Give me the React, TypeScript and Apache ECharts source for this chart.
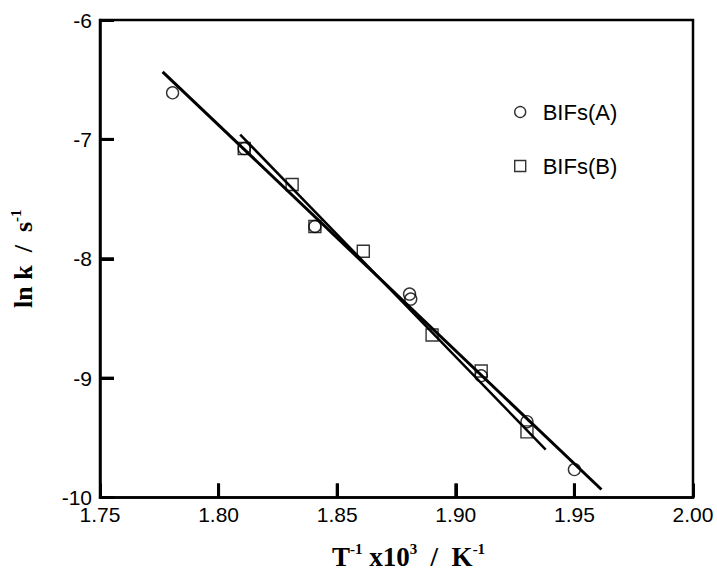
import React, { useEffect, useRef } from "react";
import * as echarts from "echarts";

const seriesNames = ["BIFs(A)", "BIFs(B)"];
const xA = [1.7806, 1.8108, 1.8406, 1.8805, 1.881, 1.9107, 1.93, 1.95];
const yA = [-6.61, -7.077, -7.73, -8.296, -8.338, -8.98, -9.365, -9.766];
const xB = [1.8108, 1.831, 1.8406, 1.861, 1.89, 1.9107, 1.93];
const yB = [-7.077, -7.378, -7.73, -7.937, -8.639, -8.94, -9.45];
const fitAx = [1.7764, 1.9614];
const fitAy = [-6.434, -9.933];
const fitBx = [1.8091, 1.9379];
const fitBy = [-6.96, -9.599];
const xTicks = [1.75, 2.0, 0.05];
const yTicks = [-10, -6, 1];
const xTickMarks = [1.8, 1.85, 1.9, 1.95];
const yTickMarks = [-9, -8, -7];

const zip = (a: number[], b: number[]) => a.map((v, i) => [v, b[i]]);

export default function App() {
  const ref = useRef<HTMLDivElement>(null);
  useEffect(() => {
    if (!ref.current) return;
    const chart = echarts.init(ref.current, null, { renderer: "svg" });
    const labelFont = { fontFamily: "Liberation Sans", fontSize: 21, color: "#000" };
    const titleB = { fontFamily: "Liberation Serif", fontWeight: "bold" as const, fontSize: 27, color: "#000", lineHeight: 30 };
    const titleSup = { fontFamily: "Liberation Serif", fontWeight: "bold" as const, fontSize: 15, color: "#000", verticalAlign: "top" as const, lineHeight: 30 };
    const markerStyle = { color: "rgba(255,255,255,0)", borderColor: "#000", borderWidth: 1.4 };
    const tickLen = 14;
    chart.setOption({
      animation: false,
      backgroundColor: "#fff",
      grid: { left: 98, right: 24, top: 20, bottom: 76, show: true, borderColor: "#000", borderWidth: 2.5, backgroundColor: "transparent" },
      legend: {
        orient: "vertical",
        left: 509,
        top: 96,
        itemWidth: 11,
        itemHeight: 11,
        itemGap: 32,
        data: [
          { name: seriesNames[0], icon: "circle" },
          { name: seriesNames[1], icon: "rect" },
        ],
        textStyle: { fontFamily: "Liberation Sans", fontSize: 22, color: "#000", padding: [0, 0, 0, 12] },
        itemStyle: { color: "rgba(255,255,255,0)", borderColor: "#000", borderWidth: 1.4 },
      },
      xAxis: {
        type: "value",
        min: xTicks[0],
        max: xTicks[1],
        interval: xTicks[2],
        axisLine: { show: true, onZero: false, lineStyle: { color: "#000", width: 2.5 } },
        axisTick: { show: true, inside: true, length: tickLen, lineStyle: { color: "#000", width: 3 } },
        axisLabel: { ...labelFont, margin: 6, formatter: (v: number) => v.toFixed(2) },
        splitLine: { show: false },
        name: "{b|T}{s|-1}{b| x10}{s|3}{b|  /  K}{s|-1}",
        nameLocation: "middle",
        nameGap: 44,
        nameTextStyle: { rich: { b: titleB, s: titleSup }, padding: [0, 0, 0, 24] },
      },
      yAxis: {
        type: "value",
        min: yTicks[0],
        max: yTicks[1],
        interval: yTicks[2],
        axisLine: { show: true, onZero: false, lineStyle: { color: "#000", width: 2.5 } },
        axisTick: { show: true, inside: true, length: tickLen, lineStyle: { color: "#000", width: 3 } },
        axisLabel: { ...labelFont, margin: 8 },
        splitLine: { show: false },
        name: "{b|ln k  /  s}{s|-1}",
        nameLocation: "middle",
        nameGap: 62,
        nameTextStyle: { rich: { b: { ...titleB, fontSize: 26 }, s: titleSup } },
      },
      series: [
        {
          type: "scatter",
          silent: true,
          clip: false,
          symbol: "rect",
          symbolSize: [3, tickLen],
          symbolOffset: [0, -tickLen / 2],
          itemStyle: { color: "#000", opacity: 1 },
          data: xTickMarks.map((v) => [v, yTicks[0]]),
          z: 5,
        },
        {
          type: "scatter",
          silent: true,
          clip: false,
          symbol: "rect",
          symbolSize: [tickLen, 3],
          symbolOffset: [tickLen / 2, 0],
          itemStyle: { color: "#000", opacity: 1 },
          data: yTickMarks.map((v) => [xTicks[0], v]),
          z: 5,
        },
        {
          name: seriesNames[0],
          type: "scatter",
          symbol: "circle",
          symbolSize: 12,
          itemStyle: markerStyle,
          data: zip(xA, yA),
          z: 2,
        },
        {
          name: seriesNames[1],
          type: "scatter",
          symbol: "rect",
          symbolSize: 12,
          itemStyle: markerStyle,
          data: zip(xB, yB),
          z: 2,
        },
        {
          type: "line",
          data: zip(fitAx, fitAy),
          showSymbol: false,
          symbol: "none",
          lineStyle: { color: "#000", width: 3 },
          z: 3,
        },
        {
          type: "line",
          data: zip(fitBx, fitBy),
          showSymbol: false,
          symbol: "none",
          lineStyle: { color: "#000", width: 2.5 },
          z: 3,
        },
      ],
    });
    return () => chart.dispose();
  }, []);
  return <div ref={ref} style={{ width: 717, height: 575, position: "absolute", left: 0, top: 0 }} />;
}
